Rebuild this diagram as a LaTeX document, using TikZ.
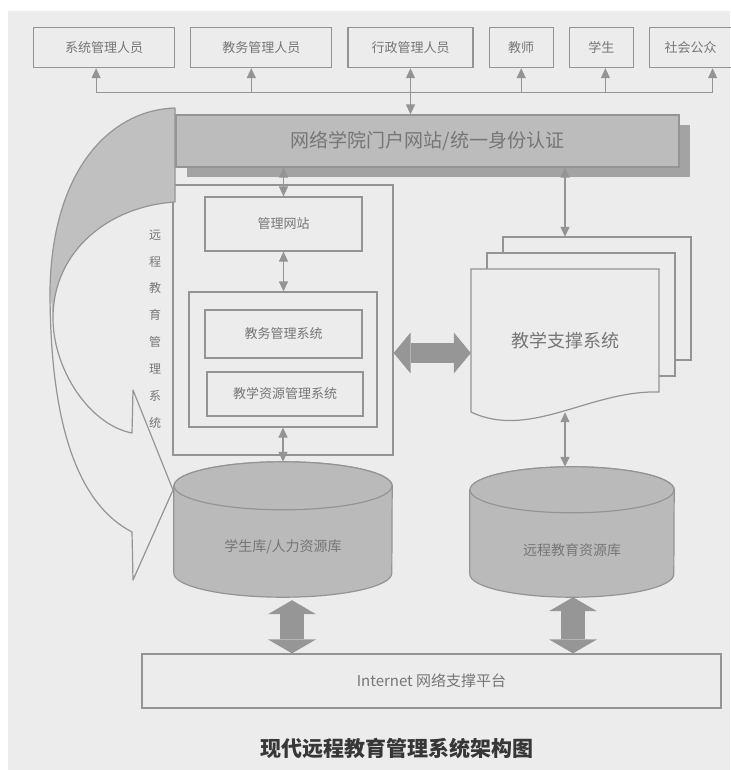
\documentclass[tikz,border=0pt]{standalone}
\usepackage{fontspec}
\setmainfont{Noto Sans CJK SC}
\usepackage{tikz}
\usetikzlibrary{positioning, arrows.meta, calc, shadows}
\def\nodedistance{15pt}
\definecolor{paper}{RGB}{236, 236, 236}
\definecolor{linegray}{RGB}{148, 148, 148}
\definecolor{ink}{RGB}{118, 118, 118}
\definecolor{portal}{RGB}{188, 188, 188}
\definecolor{portal-shadow}{RGB}{163, 163, 163}
\definecolor{db}{RGB}{186, 186, 186}
\definecolor{bendgray}{RGB}{192, 192, 192}
\definecolor{pipegray}{RGB}{150, 150, 150}
\definecolor{caption}{RGB}{55, 55, 55}
\tikzstyle{arrow} = [linegray, -{Triangle[width=9pt, length=10pt]}, line width=1.2pt]
\tikzstyle{biarrow} = [linegray, {Triangle[width=9pt, length=10pt]}-{Triangle[width=9pt, length=10pt]}, line width=1.2pt]
\tikzstyle{connector} = [linegray, -, line width=1.2pt]
\tikzstyle{fatarrow} = [pipegray, {Triangle[width=48pt, length=14pt, line width=0pt]}-{Triangle[width=48pt, length=14pt, line width=0pt]}, line width=24pt]
\tikzstyle{widearrow} = [pipegray, {Triangle[width=41pt, length=17pt, line width=0pt]}-{Triangle[width=41pt, length=17pt, line width=0pt]}, line width=20pt]
\tikzstyle{sheet} = [draw=linegray, fill=paper, line width=1.2pt]
\tikzstyle{dbshape} = [draw=linegray, fill=db, line width=1.2pt]
\newcommand{\tikzrolenode}[1]{\node[
  draw=linegray, line width=1.2pt, minimum width=#1, minimum height=40pt, inner sep=0, text=ink,
  font=\fontsize{13pt}{13pt}\selectfont
]}
\newcommand{\tikzsysnode}[2]{\node[
  draw=linegray, line width=1.2pt, minimum width=#1, minimum height=#2, inner sep=0, text=ink,
  font=\fontsize{13pt}{13pt}\selectfont
]}

\begin{document}
\begin{tikzpicture}[x=1pt, y=1pt, node distance=\nodedistance]
    \useasboundingbox (0,0) rectangle (730,-770);
    \fill[white] (0,0) rectangle (730,-770);
    \fill[paper] (8,-11) rectangle (730,-770);

    % users
    \tikzrolenode{141pt} [anchor=north west] at (33,-27) (sysadmin) {系统管理人员};
    \tikzrolenode{141pt} [right = of sysadmin] (eduadmin) {教务管理人员};
    \tikzrolenode{125pt} [right = of eduadmin] (admin)    {行政管理人员};
    \tikzrolenode{64pt}  [right = of admin]    (teacher)  {教师};
    \tikzrolenode{64pt}  [right = of teacher]  (student)  {学生};
    \tikzrolenode{82pt}  [right = of student]  (public)   {社会公众};

    % portal
    \node[draw=linegray, line width=1.2pt, fill=portal, minimum width=503pt, minimum height=52pt,
      text=ink, font=\fontsize{19pt}{19pt}\selectfont,
      drop shadow={shadow xshift=11pt, shadow yshift=-10pt, fill=portal-shadow, opacity=1}]
      at (427.5,-141) (portal) {网络学院门户网站/统一身份认证};

    % management system
    \node[draw=linegray, line width=1.2pt, minimum width=220pt, minimum height=270pt] at (283,-320) (mgmtframe) {};
    \node[text=ink, align=center, inner sep=0, font=\fontsize{12pt}{26.9pt}\selectfont]
      at (155,-329) (mgmtlabel) {远\\程\\教\\育\\管\\理\\系\\统};
    \tikzsysnode{157pt}{54pt}  at (283.5,-224) (site)           {管理网站};
    \tikzsysnode{188pt}{135pt} at (283,-359.5) (coreframe)      {};
    \tikzsysnode{157pt}{48pt}  at (283.5,-334) (edusystem)      {教务管理系统};
    \tikzsysnode{156pt}{44pt}  at (285,-394)   (resourcesystem) {教学资源管理系统};

    % teaching support (stack of sheets)
    \coordinate (stack) at (565,-340.5);
    \foreach \s in {32,16} {
      \draw[sheet] ($(stack)+(-94+\s,71.5+\s)$) rectangle ($(stack)+(94+\s,-51.5+\s)$);
    }
    \draw[sheet] ($(stack)+(-94,-71.5)$) -- ($(stack)+(-94,71.5)$) -- ($(stack)+(94,71.5)$) -- ($(stack)+(94,-51.5)$)
      .. controls ($(stack)+(25,-49.5)$) and ($(stack)+(-35,-99.5)$) .. ($(stack)+(-94,-71.5)$) -- cycle;
    \node[minimum width=188pt, minimum height=143pt, inner sep=0, text=ink, font=\fontsize{18pt}{18pt}\selectfont]
      at (stack) (supportsys) {教学支撑系统};

    % databases
    \node[minimum width=218pt, minimum height=135pt, inner sep=0] at (283,-529.5) (studentdb) {};
    \node[minimum width=204pt, minimum height=130pt, inner sep=0] at (572,-532) (resourcedb) {};
    \foreach \db/\rx/\ry in {studentdb/109/24, resourcedb/102/23} {
      \draw[dbshape] ($(\db.north west)+(0,-\ry)$) -- ($(\db.south west)+(0,\ry)$)
        arc[start angle=180, end angle=360, x radius=\rx, y radius=\ry]
        -- ($(\db.north east)+(0,-\ry)$)
        arc[start angle=0, end angle=180, x radius=\rx, y radius=\ry] -- cycle;
      \draw[dbshape] ($(\db.north)+(0,-\ry)$) ellipse [x radius=\rx, y radius=\ry];
    }
    \node[text=ink, font=\fontsize{14pt}{14pt}\selectfont] at ($(studentdb.center)+(0,-17.5)$) (studentdbtext) {学生库/人力资源库};
    \node[text=ink, font=\fontsize{14pt}{14pt}\selectfont] at ($(resourcedb.center)+(0,-18)$) (resourcedbtext) {远程教育资源库};

    % platform
    \tikzsysnode{579pt}{54pt} [font=\fontsize{15pt}{15pt}\selectfont] at (431.5,-681) (internet) {Internet 网络支撑平台};
    \node[text=caption, font=\fontsize{21pt}{21pt}\selectfont\bfseries] at (397,-748) (title) {现代远程教育管理系统架构图};

    % bent arrow
    \fill[bendgray] (175,-108) .. controls (110,-110) and (52,-170) .. (50,-290)
      -- (53,-318) .. controls (53,-250) and (110,-206) .. (175,-202) -- cycle;
    \draw[linegray, line width=1.2pt, line join=round] (175,-108) .. controls (110,-110) and (52,-170) .. (50,-290)
      .. controls (50,-430) and (80,-505) .. (132,-532)
      -- (133,-580) -- (173,-490) -- (133,-390) -- (132,-433)
      .. controls (90,-425) and (53,-370) .. (53,-318)
      .. controls (53,-250) and (110,-206) .. (175,-202) -- cycle;

    % arrows
    \coordinate (busL) at ($(sysadmin.south)+(-8,-24)$);
    \coordinate (busR) at ($(public.south)+(22,-24)$);
    \draw[connector] (busL) -- (busR);
    \foreach \who/\dx in {sysadmin/-8, eduadmin/-10, teacher/0, student/4, public/22} {
      \coordinate (up) at ($(\who.south)+(\dx,0)$);
      \draw[arrow] (up |- busL) -- (up);
    }
    \draw[biarrow] (admin.south) -- (admin.south |- portal.north);
    \draw[biarrow] (portal.south -| site.north) -- (site.north);
    \draw[biarrow] (site.south) -- (site.south |- coreframe.north);
    \draw[biarrow] (coreframe.south) -- (coreframe.south |- studentdb.north);
    \draw[biarrow] (portal.south -| supportsys.north) -- ($(supportsys.north)+(0,32)$);
    \draw[biarrow] (supportsys.south) -- (supportsys.south |- resourcedb.north);
    \draw[widearrow] (mgmtframe.east |- 0,-353) -- (supportsys.west |- 0,-353);
    \coordinate (pipeA) at ($(studentdb.south)+(9,-3)$);
    \coordinate (pipeB) at ($(resourcedb.south)+(1,0)$);
    \draw[fatarrow] (pipeA) -- (pipeA |- internet.north);
    \draw[fatarrow] (pipeB) -- (pipeB |- internet.north);
\end{tikzpicture}
\end{document}
